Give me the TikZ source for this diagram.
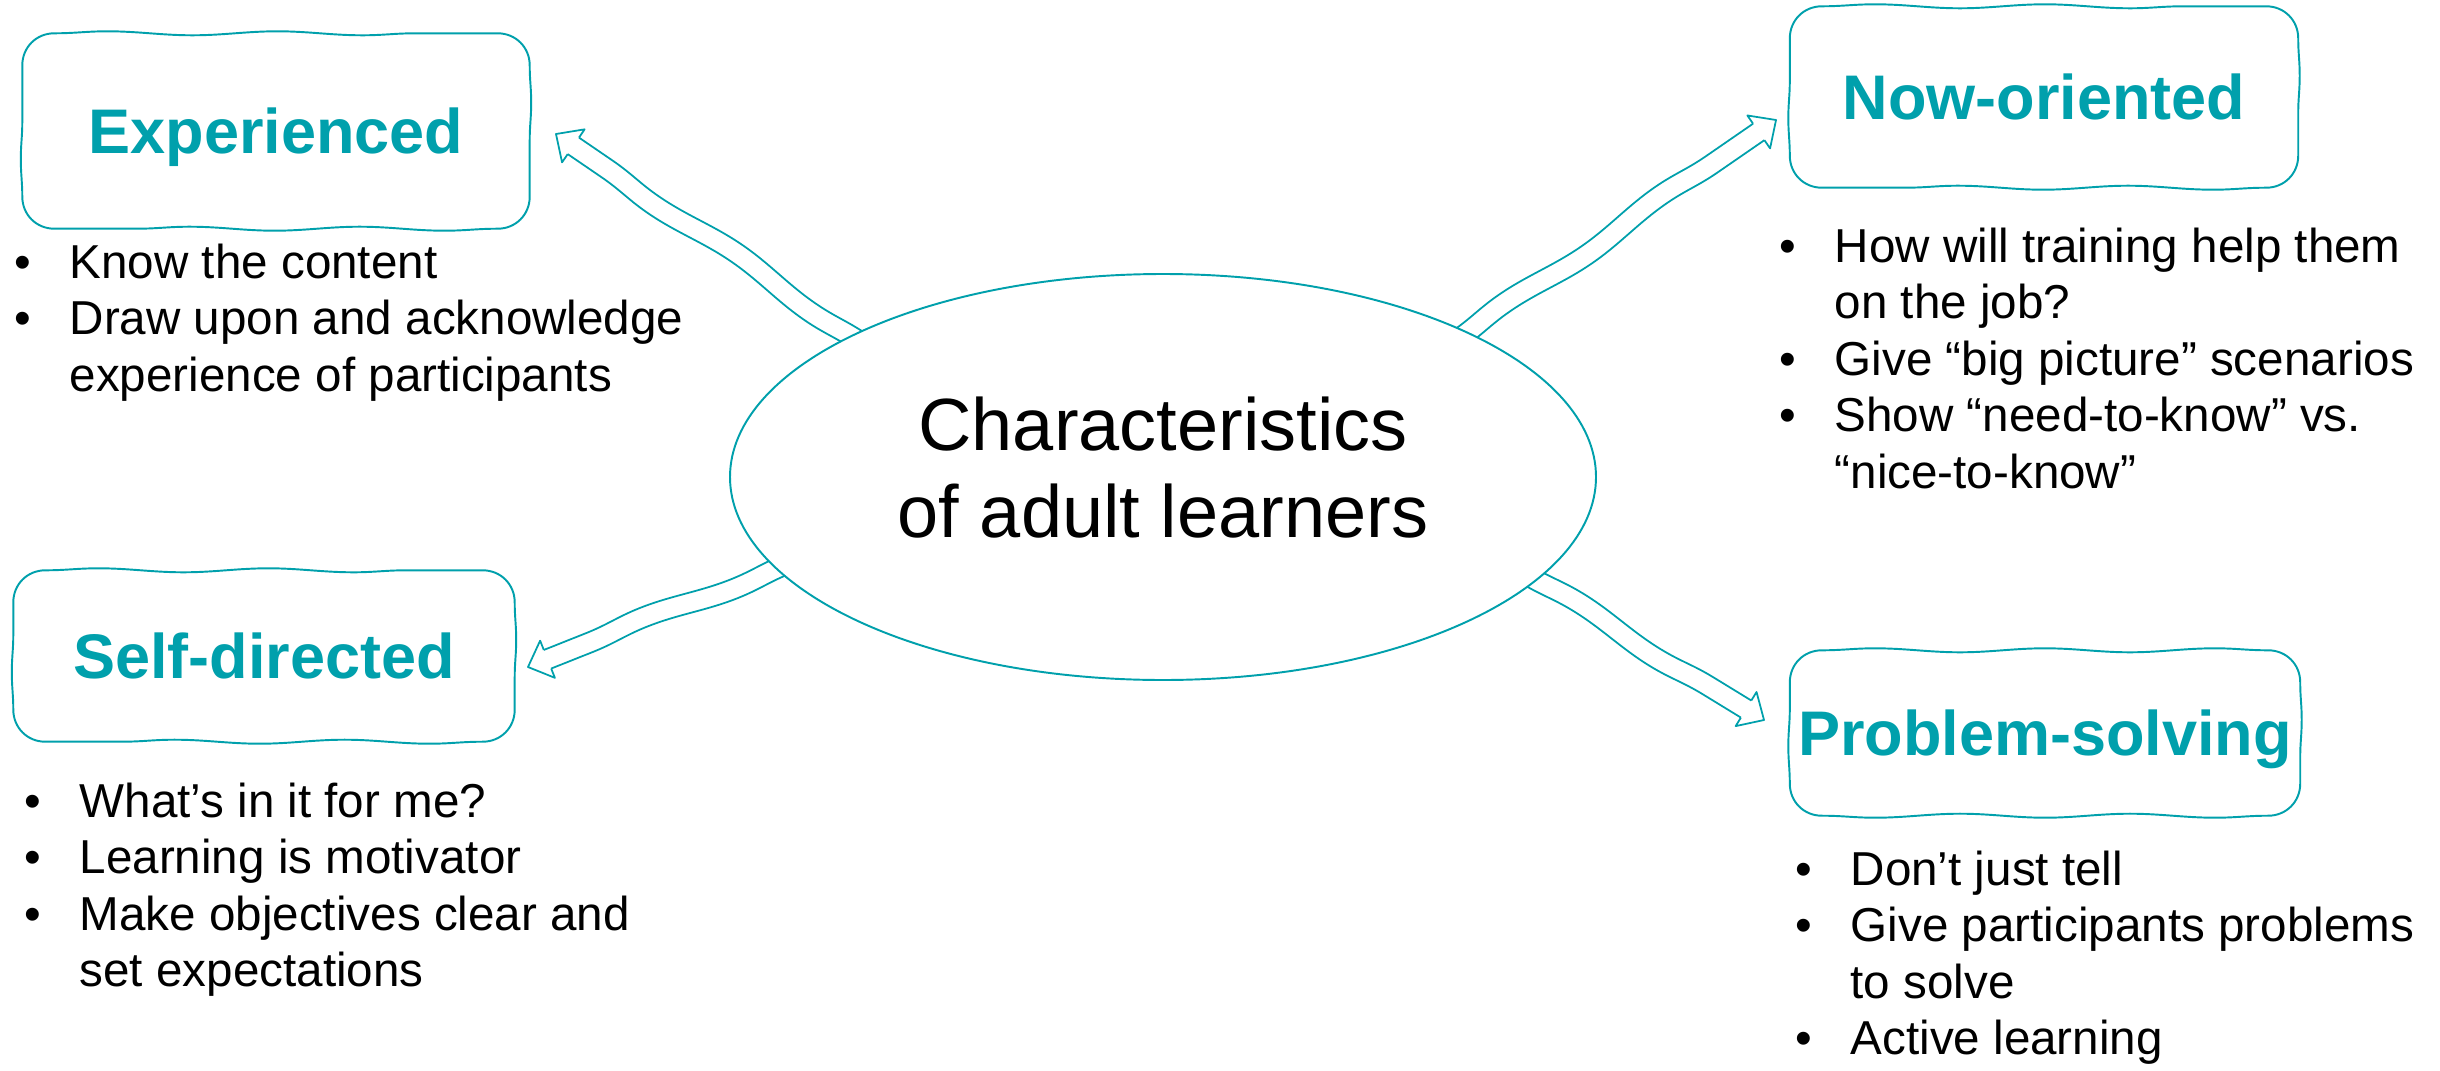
\documentclass[tikz,border=0pt]{standalone}
\usepackage{fontspec}
\setmainfont{Liberation Sans}
\usetikzlibrary{calc,decorations.pathmorphing,shapes.geometric}
\definecolor{accent}{RGB}{0,160,172}
\pgfdeclarelayer{bgfill}
\pgfdeclarelayer{arrowlayer}
\pgfsetlayers{bgfill,arrowlayer,main}
\newcommand\bul{\makebox[5.5mm][l]{\strut•}}
\newcommand\ind{\hspace*{5.5mm}\strut}
% #1 start, #2 tip, #3 prefix
\newcommand\hollowarrow[3]{%
  \coordinate (#3b) at ($(#2)!2.1mm!(#1)$);
  \coordinate (#3s1) at ($(#1)!1mm!90:(#2)$);
  \coordinate (#3s2) at ($(#1)!1mm!-90:(#2)$);
  \coordinate (#3e1) at ($(#3b)!1mm!90:(#2)$);
  \coordinate (#3e2) at ($(#3b)!1mm!-90:(#2)$);
  \coordinate (#3h1) at ($(#3b)!2mm!90:(#2)$);
  \coordinate (#3h2) at ($(#3b)!2mm!-90:(#2)$);
  \draw[arrowline, wavy] (#3s1) -- (#3e1);
  \draw[arrowline, wavy] (#3s2) -- (#3e2);
  \draw[arrowline] (#3e1) -- (#3h1) -- (#2) -- (#3h2) -- (#3e2);
}
% sketchy rounded outline around node #1 (corner radius 32 units)
\newcommand\sketchbox[1]{%
  \draw[boxline] ($(#1.north west)+(32,0)$)
    decorate{-- ($(#1.north east)+(-32,0)$)}
    .. controls ($(#1.north east)+(-14,0)$) and ($(#1.north east)+(0,14)$) .. ($(#1.north east)+(0,32)$)
    decorate[decoration={snake, amplitude=0.15mm, segment length=12mm}]{-- ($(#1.south east)+(0,-32)$)}
    .. controls ($(#1.south east)+(0,-14)$) and ($(#1.south east)+(-14,0)$) .. ($(#1.south east)+(-32,0)$)
    decorate{-- ($(#1.south west)+(32,0)$)}
    .. controls ($(#1.south west)+(14,0)$) and ($(#1.south west)+(0,-14)$) .. ($(#1.south west)+(0,-32)$)
    decorate[decoration={snake, amplitude=0.15mm, segment length=12mm}]{-- ($(#1.north west)+(0,32)$)}
    .. controls ($(#1.north west)+(0,14)$) and ($(#1.north west)+(14,0)$) .. ($(#1.north west)+(32,0)$);
}
\begin{document}
\begin{tikzpicture}[x=0.1mm,y=-0.1mm,
  arrowline/.style={draw=accent, line width=0.5pt, line join=round},
  wavy/.style={decorate, decoration={snake, amplitude=0.35mm, segment length=19mm}},
  boxline/.style={draw=accent, line width=0.55pt, line join=round,
    decoration={snake, amplitude=0.2mm, segment length=17mm}},
  centre/.style={ellipse, draw=accent, line width=0.55pt, fill=white,
    minimum width=86.6mm, minimum height=40.6mm, inner sep=0pt, align=center,
    font=\fontsize{21.05pt}{24.75pt}\selectfont},
  titlebox/.style={text=accent, font=\fontsize{17.93pt}{21pt}\selectfont\bfseries,
    text height=4.5mm, text depth=0pt, inner sep=0pt},
  listtext/.style={anchor=north west, inner sep=0pt, align=left,
    font=\fontsize{13.54pt}{16.08pt}\selectfont}
]
\begin{pgfonlayer}{bgfill}
\fill[white] (0,0) rectangle (2440,1070);
\end{pgfonlayer}
\useasboundingbox (0,0) rectangle (2440,1070);

\node[centre] (c) at (1163,477) {\strut Characteristics\\\strut of adult learners};

\node[titlebox, minimum width=50.6mm, minimum height=19.4mm] (exp) at (276,131) {Experienced};
\node[titlebox, minimum width=50.7mm, minimum height=18.0mm] (now) at (2044,97) {Now-oriented};
\node[titlebox, minimum width=50.0mm, minimum height=17.0mm] (self) at (264,656) {Self-directed};
\node[titlebox, minimum width=50.9mm, minimum height=16.4mm] (prob) at (2045,733) {Problem-solving};
\sketchbox{exp}
\sketchbox{now}
\sketchbox{self}
\sketchbox{prob}

\node[listtext] (expl) at (14,238) {\bul Know the content\\ \bul Draw upon and acknowledge\\ \ind experience of participants};
\node[listtext] (nowl) at (1779,222) {\bul How will training help them\\ \ind on the job?\\ \bul Give “big picture” scenarios\\ \bul Show “need-to-know” vs.\\ \ind “nice-to-know”};
\node[listtext] (selfl) at (24,777) {\bul What’s in it for me?\\ \bul Learning is motivator\\ \bul Make objectives clear and\\ \ind set expectations};
\node[listtext] (probl) at (1795,845) {\bul Don’t just tell\\ \bul Give participants problems\\ \ind to solve\\ \bul Active learning};

\coordinate (t1) at (556,134);
\coordinate (t2) at (1776,120);
\coordinate (t3) at (528,667);
\coordinate (t4) at (1764,720);

\begin{pgfonlayer}{arrowlayer}
\coordinate (a1) at ($(c.156)!1.5mm!(c.center)$);
\coordinate (a2) at ($(c.25)!1.5mm!(c.center)$);
\coordinate (a3) at ($(c.193)!1.5mm!(c.center)$);
\coordinate (a4) at ($(c.345)!1.5mm!(c.center)$);
\hollowarrow{a1}{t1}{p}
\hollowarrow{a2}{t2}{q}
\hollowarrow{a3}{t3}{r}
\hollowarrow{a4}{t4}{s}
\end{pgfonlayer}
\end{tikzpicture}
\end{document}
